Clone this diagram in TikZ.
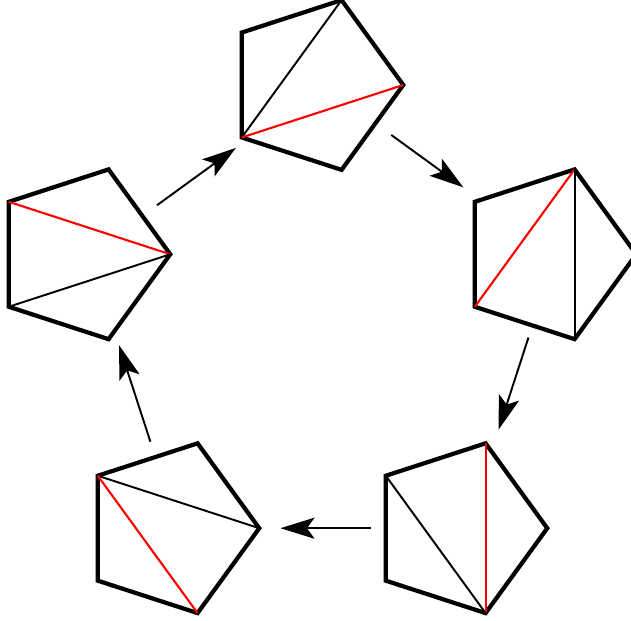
\documentclass[tikz,border=0pt]{standalone}
\usetikzlibrary{arrows.meta, shapes.geometric}

\begin{document}
\begin{tikzpicture}[
    >={Stealth[length=0.68cm, width=0.42cm, inset=0.15cm]},
    pent/.style={draw, line width=2.4pt, regular polygon, regular polygon sides=5,
                 shape border rotate=-90, minimum size=3.57cm, inner sep=0pt, outer sep=0pt},
    diag/.style={line width=1.1pt},
    flip/.style={line width=1.2pt, color=red},
    arrow/.style={->, line width=1.1pt},
]

% 画布
\clip (-6.28,-5.82) rectangle (6.34,6.6);

% 五边形
\node[pent] (t1) at (90:4.9) {};
\node[pent] (t2) at (18:4.9) {};
\node[pent] (t3) at (-54:4.9) {};
\node[pent] (t4) at (-126:4.9) {};
\node[pent] (t5) at (162:4.9) {};

% 对角线
\draw[diag] (t1.corner 4) -- (t1.corner 2);
\draw[flip] (t1.corner 4) -- (t1.corner 1);

\draw[flip] (t2.corner 4) -- (t2.corner 2);
\draw[diag] (t2.corner 2) -- (t2.corner 5);

\draw[flip] (t3.corner 2) -- (t3.corner 5);
\draw[diag] (t3.corner 3) -- (t3.corner 5);

\draw[diag] (t4.corner 3) -- (t4.corner 1);
\draw[flip] (t4.corner 3) -- (t4.corner 5);

\draw[flip] (t5.corner 3) -- (t5.corner 1);
\draw[diag] (t5.corner 4) -- (t5.corner 1);

% 箭头
\draw[arrow, shorten <=1.70cm, shorten >=2.28cm] ([xshift=0.17cm]t1.center) -- ([xshift=0.17cm]t2.center);
\draw[arrow, shorten <=1.75cm, shorten >=2.07cm] ([xshift=0.17cm]t2.center) -- ([xshift=0.17cm]t3.center);
\draw[arrow, shorten <=1.92cm, shorten >=2.04cm] ([xshift=0.17cm]t3.center) -- ([xshift=0.17cm]t4.center);
\draw[arrow, shorten <=1.82cm, shorten >=1.91cm] ([xshift=0.17cm]t4.center) -- ([xshift=0.17cm]t5.center);
\draw[arrow, shorten <=1.67cm, shorten >=2.14cm] ([xshift=0.17cm]t5.center) -- ([xshift=0.17cm]t1.center);

\end{tikzpicture}
\end{document}
